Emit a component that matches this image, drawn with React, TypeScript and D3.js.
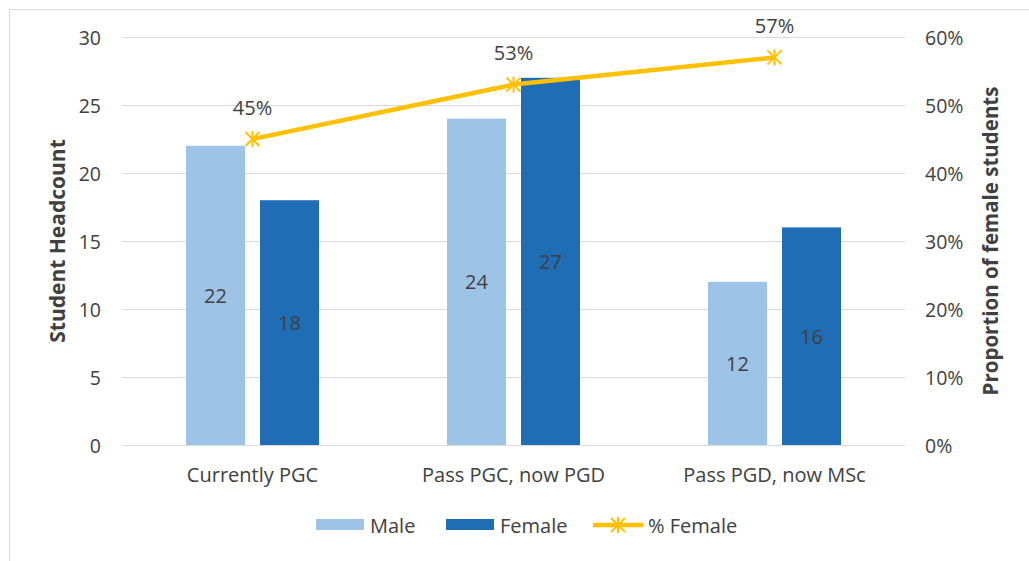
import React from "react";
import * as d3 from "d3";

const categories = ["Currently PGC", "Pass PGC, now PGD", "Pass PGD, now MSc"];
const maleCounts = [22, 24, 12];
const femaleCounts = [18, 27, 16];
const femalePct = [0.45, 0.53, 0.57];
const leftTicks = [0, 5, 10, 15, 20, 25, 30];
const rightTicks = [0, 0.1, 0.2, 0.3, 0.4, 0.5, 0.6];

const W = 1029;
const H = 561;
const margin = { top: 37, right: 124, bottom: 116, left: 122 };
const font = "'Open Sans', sans-serif";
const textColor = "#404040";
const maleColor = "#9DC3E6";
const femaleColor = "#1F6DB5";
const lineColor = "#FFC000";

const App: React.FC = () => {
  const x = d3
    .scaleBand<string>()
    .domain(categories)
    .range([margin.left, W - margin.right])
    .paddingInner(0)
    .paddingOuter(0);
  const y = d3.scaleLinear().domain([0, 30]).range([H - margin.bottom, margin.top]);
  const y2 = d3.scaleLinear().domain([0, 0.6]).range([H - margin.bottom, margin.top]);

  const barW = 59;
  const gap = 15;
  const cx = (c: string) => (x(c) ?? 0) + x.bandwidth() / 2;

  const line = d3
    .line<number>()
    .x((_, i) => cx(categories[i]))
    .y((d) => y2(d));

  const star = (px: number, py: number, key: string) => {
    const r = 7;
    return (
      <g key={key} stroke={lineColor} strokeWidth={2}>
        <line x1={px - r} y1={py - r} x2={px + r} y2={py + r} />
        <line x1={px - r} y1={py + r} x2={px + r} y2={py - r} />
        <line x1={px} y1={py - r - 1} x2={px} y2={py + r + 1} />
      </g>
    );
  };

  return (
    <svg width={W} height={H} style={{ display: "block", position: "absolute", left: 0, top: 0 }}>
      <rect x={0} y={0} width={W} height={H} fill="#fff" />
      <rect x={9.5} y={9.5} width={W + 10} height={H + 10} fill="none" stroke="#d9d9d9" />

      {/* grid */}
      {leftTicks.map((t) => (
        <line
          key={t}
          x1={margin.left}
          x2={W - margin.right}
          y1={Math.round(y(t)) + 0.5}
          y2={Math.round(y(t)) + 0.5}
          stroke="#d9d9d9"
        />
      ))}

      {/* left ticks */}
      {leftTicks.map((t) => (
        <text
          key={"l" + t}
          x={margin.left - 21}
          y={y(t)}
          textAnchor="end"
          dominantBaseline="central"
          fontFamily={font}
          fontSize={19.5}
          fill={textColor}
        >
          {t}
        </text>
      ))}

      {/* right ticks */}
      {rightTicks.map((t) => (
        <text
          key={"r" + t}
          x={W - margin.right + 20}
          y={y2(t)}
          textAnchor="start"
          dominantBaseline="central"
          fontFamily={font}
          fontSize={19.5}
          fill={textColor}
        >
          {d3.format(".0%")(t)}
        </text>
      ))}

      {/* bars */}
      {categories.map((c, i) => {
        const mx = cx(c) - gap / 2 - barW;
        const fx = cx(c) + gap / 2;
        return (
          <g key={c}>
            <rect x={mx} y={y(maleCounts[i])} width={barW} height={y(0) - y(maleCounts[i])} fill={maleColor} />
            <rect x={fx} y={y(femaleCounts[i])} width={barW} height={y(0) - y(femaleCounts[i])} fill={femaleColor} />
            <text
              x={mx + barW / 2}
              y={(y(maleCounts[i]) + y(0)) / 2}
              textAnchor="middle"
              dominantBaseline="central"
              fontFamily={font}
              fontSize={20}
              fill={textColor}
            >
              {maleCounts[i]}
            </text>
            <text
              x={fx + barW / 2}
              y={(y(femaleCounts[i]) + y(0)) / 2}
              textAnchor="middle"
              dominantBaseline="central"
              fontFamily={font}
              fontSize={20}
              fill={textColor}
            >
              {femaleCounts[i]}
            </text>
            <text
              x={cx(c)}
              y={y(0) + 29}
              textAnchor="middle"
              dominantBaseline="central"
              fontFamily={font}
              fontSize={20}
              fill={textColor}
            >
              {c}
            </text>
          </g>
        );
      })}

      {/* line */}
      <path d={line(femalePct) ?? ""} fill="none" stroke={lineColor} strokeWidth={4.5} strokeLinejoin="round" />
      {femalePct.map((p, i) => star(cx(categories[i]), y2(p), "s" + i))}
      {femalePct.map((p, i) => (
        <text
          key={"pl" + i}
          x={cx(categories[i])}
          y={y2(p) - 32}
          textAnchor="middle"
          dominantBaseline="central"
          fontFamily={font}
          fontSize={20}
          fill={textColor}
        >
          {d3.format(".0%")(p)}
        </text>
      ))}

      {/* axis titles */}
      <text
        transform={`translate(57,${(y(0) + y(30)) / 2}) rotate(-90)`}
        textAnchor="middle"
        dominantBaseline="central"
        fontFamily={font}
        fontSize={21}
        fontWeight="bold"
        fill={textColor}
      >
        Student Headcount
      </text>
      <text
        transform={`translate(990,${(y(0) + y(30)) / 2}) rotate(-90)`}
        textAnchor="middle"
        dominantBaseline="central"
        fontFamily={font}
        fontSize={20.5}
        fontWeight="bold"
        fill={textColor}
      >
        Proportion of female students
      </text>

      {/* legend */}
      <g fontFamily={font} fontSize={20} fill={textColor}>
        <rect x={316} y={519} width={48} height={11} fill={maleColor} />
        <text x={370} y={525} dominantBaseline="central">Male</text>
        <rect x={446} y={519} width={48} height={11} fill={femaleColor} />
        <text x={500} y={525} dominantBaseline="central">Female</text>
        <line x1={593} x2={643} y1={525} y2={525} stroke={lineColor} strokeWidth={4.5} />
        {star(618, 525, "legstar")}
        <text x={648} y={525} dominantBaseline="central">% Female</text>
      </g>
    </svg>
  );
};

export default App;
